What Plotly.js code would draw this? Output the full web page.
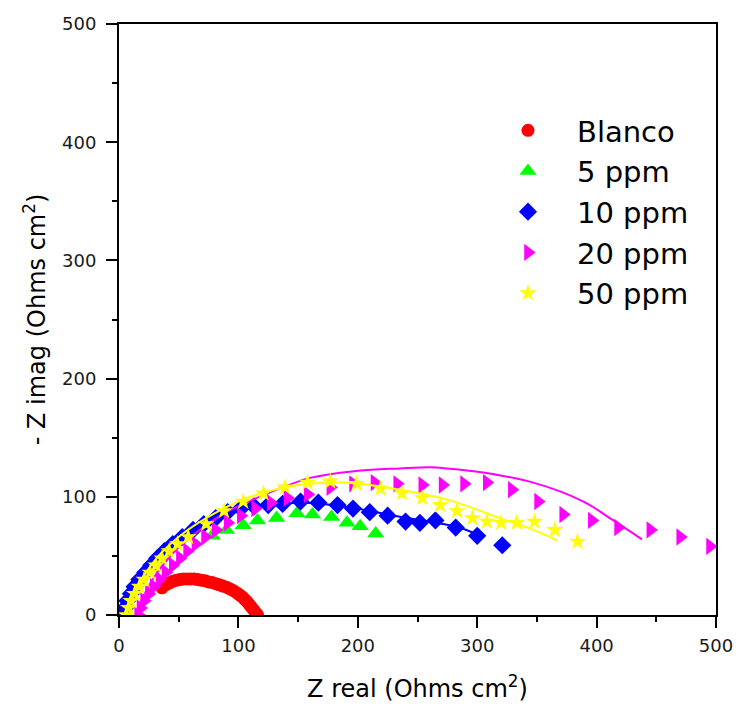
<!DOCTYPE html>
<html>
<head>
<meta charset="utf-8">
<script src="https://cdn.plot.ly/plotly-3.0.1.min.js"></script>
<style>html,body{margin:0;padding:0;background:#fff;}#chart{width:736px;height:706px;}</style>
</head>
<body>
<div id="chart"></div>
<script>
// Series names
const seriesNames = ["Blanco", "5 ppm", "10 ppm", "20 ppm", "50 ppm"];

// Blanco (red circles)
const blancoX = [36,39,42,45,48,51,54,57,60,63,66,69,72,75,78,81,84,87,90,93,96,99,101,103,105,107,109,111,113,115,116];
const blancoY = [23,25.5,27,28.5,29.5,30,30.5,30.5,30.5,30.5,30,29.5,29,28,27.5,26.5,25.5,24.5,23.5,22,20.5,18.5,17,15.5,13.5,11.5,9,6.5,4,1.5,0];

// 5 ppm (green triangles)
const p5X = [78,90,104,116,132,149,162,178,191,202,215];
const p5Y = [67,72,76,80,82,86,85,83,78,75,69];

// 10 ppm (blue diamonds)
const p10X = [3,5,7,10,13,17,22,27,32,38,45,53,62,71,81,91,102,113,125,137,152,167,183,196,210,225,240,252,265,282,300,321];
const p10Y = [0,6,12,18,24,30,36,42,48,54,60,66,72,77,82,87,90,92,93,94,96,95,93,90,87,84,79,78,80,74,67,59];
const fit10X = [3,7,13,22,32,45,62,81,102,125,150,170,200,230,260,285,300];
const fit10Y = [0,12,24,36,48,60,72,82,90,93,95,94,90,84,79,74,68];

// 20 ppm (magenta right triangles)
const p20X = [16,18,21,25,29,34,39,45,51,57,64,72,81,91,102,114,127,141,158,177,196,214,233,254,271,289,308,329,351,372,396,418,445,470,495];
const p20Y = [0,6,12,18,24,30,36,42,48,54,60,66,72,78,84,90,95,99,102,108,111,112,111,110,110,111,112,106,96,85,80,74,72,66,58];
const fit20X = [15,20,30,45,65,90,120,160,200,235,260,275,302,347,389,414,438];
const fit20Y = [0,15,33,52,70,87,101,116,122,124,125,124,121,112,96,80,64];

// 50 ppm (yellow stars)
const p50X = [6,8,10,13,17,21,26,31,36,42,49,58,73,88,104,121,139,158,177,199,219,237,254,269,283,296,308,320,333,348,365,384];
const p50Y = [0,6,12,18,24,30,36,42,48,54,60,66,77,88,96,103,108,112,113,111,107,103,99,93,88,82,79,78,78,79,72,62];
const fit50X = [6,12,22,35,55,80,110,150,188,235,277,319,347,367];
const fit50Y = [0,18,35,52,70,86,100,110,112,106,97,82,72,63];

// Axis ticks
const xTicks = [0,100,200,300,400,500];
const yTicks = [0,100,200,300,400,500];

const FONT = "DejaVu Sans, Arial, sans-serif";

const traces = [
  {x: blancoX, y: blancoY, name: seriesNames[0], mode: "markers", type: "scatter",
   marker: {symbol: "circle", size: 13, color: "#ff0000"}},
  {x: p5X, y: p5Y, name: seriesNames[1], mode: "markers", type: "scatter",
   marker: {symbol: "triangle-up", size: 15, color: "#00ff00"}},
  {x: p10X, y: p10Y, name: seriesNames[2], mode: "markers", type: "scatter",
   marker: {symbol: "diamond", size: 14, color: "#0000ff"}},
  {x: fit10X, y: fit10Y, mode: "lines", type: "scatter", showlegend: false, hoverinfo: "skip",
   line: {color: "#0000ff", width: 2, shape: "spline"}},
  {x: p20X, y: p20Y, name: seriesNames[3], mode: "markers", type: "scatter",
   marker: {symbol: "triangle-right", size: 15, color: "#ff00ff"}},
  {x: fit20X, y: fit20Y, mode: "lines", type: "scatter", showlegend: false, hoverinfo: "skip",
   line: {color: "#ff00ff", width: 2, shape: "spline"}},
  {x: p50X, y: p50Y, name: seriesNames[4], mode: "markers", type: "scatter",
   marker: {symbol: "star", size: 13, color: "#ffff00"}},
  {x: fit50X, y: fit50Y, mode: "lines", type: "scatter", showlegend: false, hoverinfo: "skip",
   line: {color: "#ffff00", width: 2, shape: "spline"}}
];

const axisCommon = {
  showgrid: false, zeroline: false, showline: true, mirror: true,
  linecolor: "#000", linewidth: 2,
  ticks: "outside", ticklen: 11, tickwidth: 2, tickcolor: "#000",
  tickfont: {family: FONT, size: 18, color: "#1a1a1a"},
  minor: {ticks: "outside", ticklen: 5, tickwidth: 2, tickcolor: "#000", dtick: 50}
};

const layout = {
  width: 736, height: 706,
  margin: {l: 119, r: 20, t: 24, b: 91},
  paper_bgcolor: "#fff", plot_bgcolor: "#fff",
  showlegend: true,
  legend: {
    x: 0.603, y: 0.863, xanchor: "left", yanchor: "top",
    font: {family: FONT, size: 29, color: "#000"},
    bgcolor: "rgba(0,0,0,0)", borderwidth: 0,
    itemsizing: "trace", itemwidth: 88
  },
  xaxis: Object.assign({}, axisCommon, {
    range: [0, 500], tickvals: xTicks, ticktext: xTicks.map(String),
    ticklabelstandoff: 2,
    title: {text: "Z real (Ohms cm<sup>2</sup>)", font: {family: FONT, size: 24, color: "#000"}, standoff: 26}
  }),
  yaxis: Object.assign({}, axisCommon, {
    range: [0, 500], tickvals: yTicks, ticktext: yTicks.map(String),
    ticklabelstandoff: 6,
    title: {text: "- Z imag (Ohms cm<sup>2</sup>)", font: {family: FONT, size: 24, color: "#000"}, standoff: 10}
  })
};

Plotly.newPlot("chart", traces, layout, {displayModeBar: false, staticPlot: true});
</script>
</body>
</html>
